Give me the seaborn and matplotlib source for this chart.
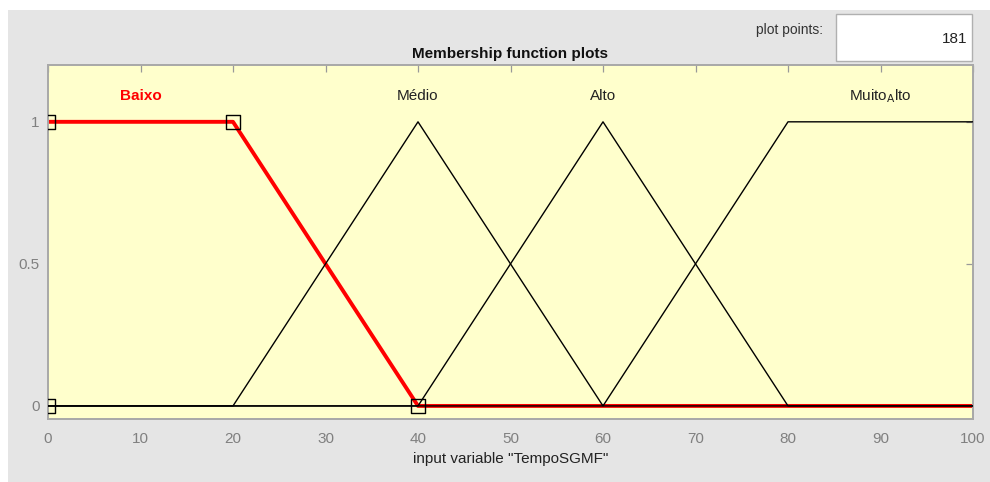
import numpy as np
import matplotlib
matplotlib.use("Agg")
import matplotlib.pyplot as plt
import seaborn as sns
from matplotlib.patches import Rectangle

# membership functions of input variable "TempoSGMF"
mf_names = ["Baixo", "Médio", "Alto", "Muito_Alto"]
baixo_x = [0, 20, 40, 100]
baixo_y = [1, 1, 0, 0]
medio_x = [0, 20, 40, 60, 100]
medio_y = [0, 0, 1, 0, 0]
alto_x = [0, 40, 60, 80, 100]
alto_y = [0, 0, 1, 0, 0]
muito_x = [0, 60, 80, 100]
muito_y = [0, 0, 1, 1]
# handles of the selected MF (trapmf params 0 0 20 40)
handle_x = [0, 0, 20, 40]
handle_y = [0, 1, 1, 0]
label_x = [10, 40, 60, 90]
plot_points = 181

sns.set_style("white")
plt.rcParams["font.family"] = ["Liberation Sans", "DejaVu Sans"]

fig = plt.figure(figsize=(9.9, 4.82), dpi=100)
fig.patch.set_facecolor("white")
fig.patches.append(Rectangle((8 / 990, 0), 1, 1 - 10 / 482, transform=fig.transFigure,
                             facecolor="#e5e5e5", edgecolor="none", zorder=-10))

ax = fig.add_axes([48 / 990, 1 - 419 / 482, 925 / 990, 354 / 482])
ax.set_facecolor("#ffffcc")

sns.lineplot(x=baixo_x, y=baixo_y, ax=ax, color="red", lw=2.8, estimator=None, sort=False, zorder=2)
for xs, ys in [(medio_x, medio_y), (alto_x, alto_y), (muito_x, muito_y)]:
    sns.lineplot(x=xs, y=ys, ax=ax, color="black", lw=1.0, estimator=None, sort=False, zorder=3)
sns.scatterplot(x=handle_x, y=handle_y, ax=ax, marker="s", s=100, facecolor="none",
                edgecolor="black", linewidth=1.0, zorder=4)

for i, name in enumerate(mf_names):
    txt = name.replace("_A", "$_\\mathrm{A}$")
    if i == 0:
        ax.text(label_x[i], 1.09, txt, color="red", fontweight="bold", fontsize=11,
                ha="center", va="center")
    else:
        ax.text(label_x[i], 1.09, txt, color="#222222", fontsize=11, ha="center", va="center")

ax.set_xlim(0, 100)
ax.set_ylim(-0.046, 1.2)
ax.set_xticks(np.arange(0, 101, 10))
ax.set_yticks([0, 0.5, 1])
ax.set_yticklabels(["0", "0.5", "1"])
ax.tick_params(direction="in", length=5, width=0.9, color="#999999", labelcolor="#808080",
               labelsize=11, top=True, right=True)
ax.tick_params(axis="x", pad=9.5)
ax.tick_params(axis="y", pad=6)
for s in ax.spines.values():
    s.set_color("#a8a8a8")
    s.set_linewidth(1.4)

ax.set_xlabel('input variable "TempoSGMF"', fontsize=11, color="#222222", labelpad=4.5)
ax.set_title("Membership function plots", fontsize=11, fontweight="bold", color="#111111", pad=5)

# plot points box
fig.patches.append(Rectangle((836 / 990, 1 - 61 / 482), 136 / 990, 47 / 482,
                             transform=fig.transFigure, facecolor="white",
                             edgecolor="#b0b0b0", lw=1))
fig.text(823 / 990, 1 - 30 / 482, "plot points:", fontsize=10, color="#333333",
         ha="right", va="center")
fig.text(967 / 990, 1 - 39 / 482, str(plot_points), fontsize=11, color="#222222",
         ha="right", va="center")

fig.savefig("out.png", dpi=100)
